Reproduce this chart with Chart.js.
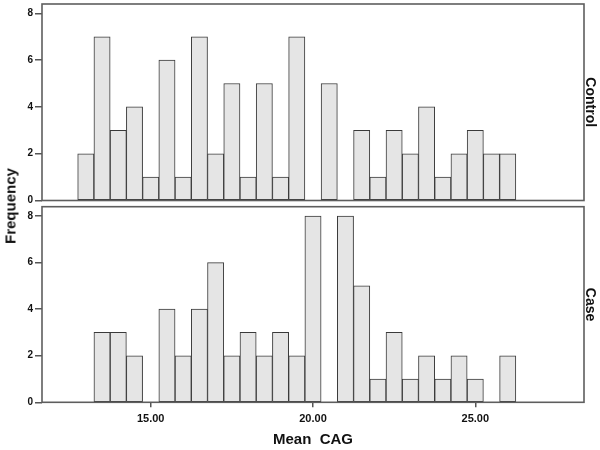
<!DOCTYPE html>
<html><head><meta charset="utf-8">
<script src="https://cdn.jsdelivr.net/npm/chart.js@4.4.1/dist/chart.umd.min.js"></script>
<style>
html,body{margin:0;padding:0;background:#fff;width:600px;height:450px;overflow:hidden;position:relative}
.w{position:absolute;left:0;width:600px}
.w canvas{position:absolute;left:0;top:0}
#freq{position:absolute;left:10px;top:206px;transform:translate(-50%,-50%) rotate(-90deg);font:bold 15px "Liberation Sans",Arial,sans-serif;white-space:nowrap;color:#111}
</style></head><body>
<div class="w" style="top:0;height:204px"><canvas id="c1" width="600" height="204"></canvas></div>
<div class="w" style="top:204px;height:246px"><canvas id="c2" width="600" height="246"></canvas></div>
<div id="freq">Frequency</div>
<script>
// Bin centres (Mean CAG, bin width 0.5)
const bins = [13.0,13.5,14.0,14.5,15.0,15.5,16.0,16.5,17.0,17.5,18.0,18.5,19.0,19.5,20.0,20.5,21.0,21.5,22.0,22.5,23.0,23.5,24.0,24.5,25.0,25.5,26.0];
const controlCounts = [2,7,3,4,1,6,1,7,2,5,1,5,1,7,0,5,0,3,1,3,2,4,1,2,3,2,2];
const caseCounts    = [0,3,3,2,0,4,2,4,6,2,3,2,3,2,8,0,8,5,1,3,1,2,1,2,1,0,2];
const xTicks = [15, 20, 25];
const yTicks = [0, 2, 4, 6, 8];
const panelLabels = ['Control', 'Case'];
const xTitle = 'Mean  CAG';

const FONT = '"Liberation Sans", Arial, sans-serif';
const framePlugin = {
  id: 'frame',
  afterDatasetsDraw(chart) {
    const {ctx, chartArea: a} = chart;
    ctx.save();
    ctx.strokeStyle = '#5e5e5e';
    ctx.lineWidth = 1.6;
    ctx.strokeRect(a.left, a.top, a.right - a.left, a.bottom - a.top);
    ctx.restore();
  }
};

function makePanel(id, counts, label, showX, pad) {
  const data = [];
  bins.forEach((b, i) => { if (counts[i] > 0) data.push({x: b, y: counts[i]}); });
  return new Chart(document.getElementById(id), {
    type: 'bar',
    data: { datasets: [{
      data,
      backgroundColor: '#e5e5e5',
      borderColor: '#3a3a3a',
      borderWidth: 1,
      borderSkipped: false,
      barPercentage: 1,
      categoryPercentage: 1
    }]},
    options: {
      responsive: false,
      animation: false,
      layout: { padding: pad },
      plugins: { legend: {display: false}, tooltip: {enabled: false} },
      scales: {
        x: {
          type: 'linear', min: 11.65, max: 28.35,
          offset: false,
          display: showX,
          afterBuildTicks: s => { s.ticks = xTicks.map(v => ({value: v})); },
          ticks: { callback: v => Number(v).toFixed(2), font: {family: FONT, size: 11, weight: 'bold'}, color: '#111', padding: 5, maxRotation: 0 },
          grid: { offset: false, drawOnChartArea: false, drawTicks: true, tickLength: 5, color: '#555', lineWidth: 1.5 },
          border: { display: false },
          title: { display: showX, text: xTitle, font: {family: FONT, size: 15, weight: 'bold'}, color: '#111', padding: {top: 0, bottom: 1} },
          afterFit: s => { if (showX) s.height = 47.7; s.paddingLeft = 0; s.paddingRight = 0; }
        },
        y: {
          position: 'left', min: 0, max: 8.4,
          afterBuildTicks: s => { s.ticks = yTicks.map(v => ({value: v})); },
          ticks: { font: {family: FONT, size: 10, weight: 'bold'}, color: '#111', padding: 2 },
          grid: { drawOnChartArea: false, drawTicks: true, tickLength: 7, color: '#555', lineWidth: 1.5 },
          border: { display: false },
          afterFit: s => { s.width = 42; s.paddingTop = 0; s.paddingBottom = 0; }
        },
        yr: {
          position: 'right', min: 0, max: 8.4,
          ticks: { display: false },
          grid: { display: false },
          border: { display: false },
          title: { display: true, text: label, font: {family: FONT, size: 14, weight: 'bold'}, color: '#111', padding: {top: 1.6, bottom: 0} },
          afterFit: s => { s.width = 16; s.paddingTop = 0; s.paddingBottom = 0; }
        }
      }
    },
    plugins: [framePlugin]
  });
}

makePanel('c1', controlCounts, panelLabels[0], false, {top: 4, bottom: 3.5, left: 0, right: 0});
makePanel('c2', caseCounts, panelLabels[1], true, {top: 2.7, bottom: 0, left: 0, right: 0});
</script>
</body></html>
